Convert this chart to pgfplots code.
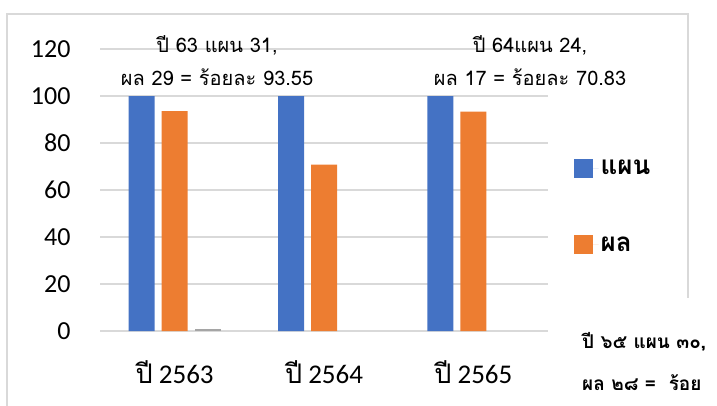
\documentclass[border=0pt]{standalone}
\usepackage{fontspec}
\setmainfont{Carlito}
\newfontfamily\thai[Script=Thai]{Loma}
\usepackage{pgfplots}
\pgfplotsset{compat=1.18}
\definecolor{cBlue}{HTML}{4472C4}
\definecolor{cOrange}{HTML}{ED7D31}
\definecolor{cGray}{HTML}{A5A5A5}
\definecolor{cGrid}{HTML}{D9D9D9}

\begin{document}
\begin{tikzpicture}[x=1pt,y=1pt]
\useasboundingbox (0,0) rectangle (717,405);
% chart frame (cut off at the bottom and on the right)
\draw[cGrid, line width=1.5pt] (7,-2) -- (7,391) -- (688,391) -- (688,107);
\begin{axis}[
    at={(100pt,74pt)}, anchor=south west,
    width=448pt, height=282pt, scale only axis,
    ymin=0, ymax=120, ytick={0,20,...,120},
    xmin=-0.5, xmax=2.5,
    ybar=7pt, bar width=26pt,
    xtick={0,1,2},
    xticklabels={{\thai ปี} 2563, {\thai ปี} 2564, {\thai ปี} 2565},
    major x tick style={draw=none},
    extra x ticks={-0.5,0.5,1.5,2.5},
    extra x tick labels={},
    extra x tick style={grid=none, tick align=outside, major tick length=11pt,
        tick style={cGrid, line width=1.2pt}},
    axis x line*=bottom, axis y line*=left,
    x axis line style={cGrid, line width=1.2pt, -},
    y axis line style={draw=none},
    ytick style={draw=none},
    ymajorgrids, grid style={cGrid, line width=1.2pt},
    /pgf/number format/assume math mode=true,
    tick label style={font=\fontsize{26}{30}\selectfont, text=black},
    xticklabel style={yshift=-22pt, font=\fontsize{27}{30}\selectfont},
    yticklabel style={xshift=-26pt},
    legend entries={\thai แผน, \thai ผล},
    legend style={at={(axis description cs:1.05,0.62)}, anchor=north west,
        draw=none, fill=none, font=\bfseries\fontsize{26}{30}\selectfont,
        row sep=56pt, cells={anchor=west}},
    legend image code/.code={\fill[#1] (0pt,-9.5pt) rectangle (19pt,9.5pt);
        \path (19pt,0pt) -- (25pt,0pt);},
]
\addplot[fill=cBlue, draw=none] coordinates {(0,100) (1,100) (2,100)};
\addplot[fill=cOrange, draw=none] coordinates {(0,93.55) (1,70.83) (2,93.33)};
\addplot[fill=cGray, draw=none] coordinates {(0,1)};
\end{axis}
% data label boxes
\node[font=\thai\fontsize{20}{24}\selectfont] at (217,360) {ปี 63 แผน 31,};
\node[font=\thai\fontsize{20}{24}\selectfont] at (217,328) {ผล 29 = ร้อยละ 93.55};
\node[font=\thai\fontsize{20}{24}\selectfont] at (530,360) {ปี 64แผน 24,};
\node[font=\thai\fontsize{20}{24}\selectfont] at (530,328) {ผล 17 = ร้อยละ 70.83};
% note box on the right, cut off by the crop
\node[font=\thai\bfseries\fontsize{19}{22}\selectfont, anchor=west, inner sep=0pt] at (582,63) {ปี ๖๕ แผน ๓๐,};
\node[font=\thai\bfseries\fontsize{19}{22}\selectfont, anchor=west, inner sep=0pt] at (582,22) {ผล ๒๘ =\ \ ร้อย};
\end{tikzpicture}
\end{document}
